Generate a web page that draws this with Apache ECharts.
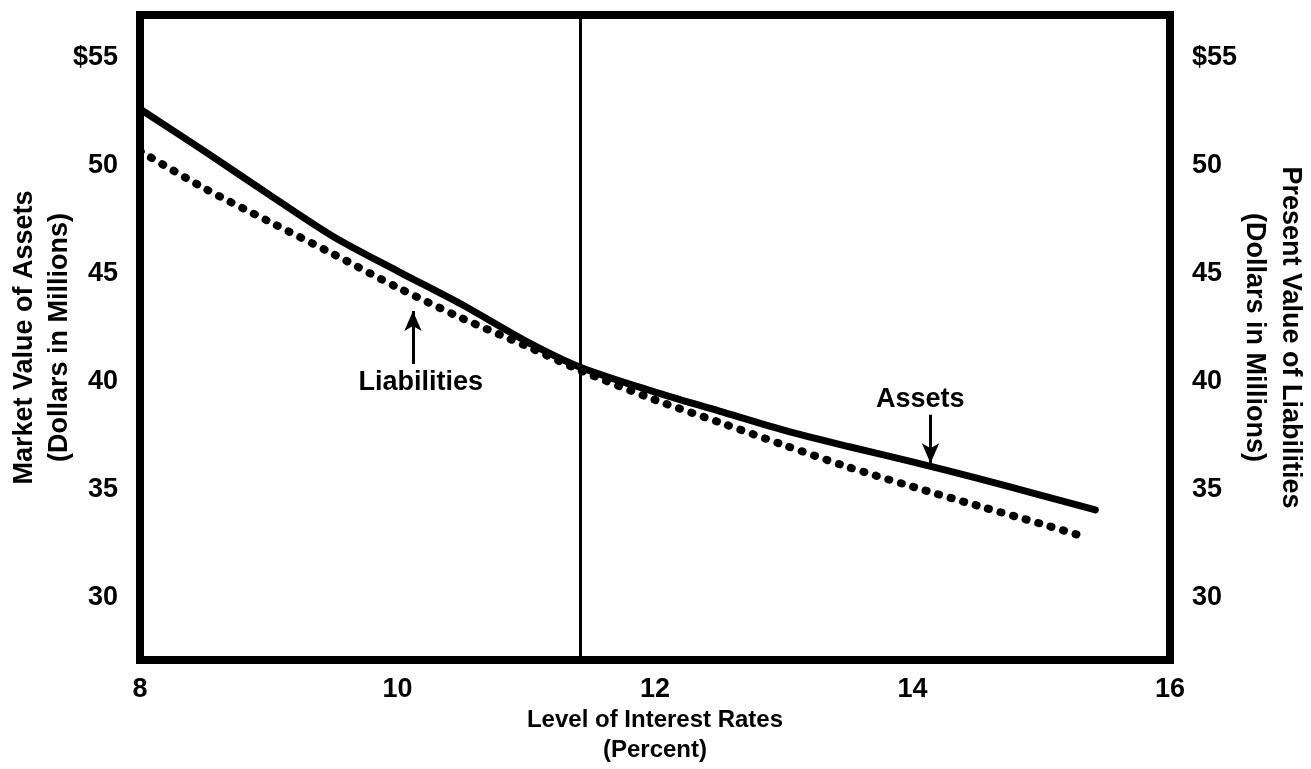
<!DOCTYPE html>
<html>
<head>
<meta charset="utf-8">
<script src="https://cdn.jsdelivr.net/npm/echarts@6/dist/echarts.min.js"></script>
<style>
  html, body { margin: 0; padding: 0; background: #fff; }
  #chart { width: 1311px; height: 769px; }
</style>
</head>
<body>
<div id="chart"></div>
<script>
// interest rate (percent) vs value (dollars in millions)
const assetRates = [8, 8.5, 9, 9.5, 10, 10.5, 11, 11.42, 12, 12.5, 13, 13.5, 14, 14.5, 15, 15.42];
const assetValues = [52.6, 50.65, 48.65, 46.7, 45.1, 43.55, 41.85, 40.65, 39.5, 38.62, 37.74, 36.98, 36.27, 35.52, 34.72, 34.05];
const liabilityRates = [8, 8.5, 9, 9.5, 10, 10.5, 11, 11.42, 12, 12.5, 13, 13.5, 14, 14.5, 15, 15.36];
const liabilityValues = [50.65, 48.93, 47.4, 45.89, 44.34, 42.92, 41.63, 40.5, 39.14, 38.1, 37.05, 36.03, 35.12, 34.25, 33.4, 32.76];
const valueTicks = [30, 35, 40, 45, 50, 55];
const currentRate = 11.42;

const FONT = "'Liberation Sans', Arial, sans-serif";
const textStyle = { color: "#000", fontFamily: FONT, fontWeight: "bold", fontSize: 27 };

const chart = echarts.init(document.getElementById("chart"), null, { renderer: "canvas" });

const yAxisBase = {
  type: "value",
  min: 27.1,
  max: 56.95,
  axisLine: { show: false },
  axisTick: { show: false },
  splitLine: { show: false },
  nameLocation: "middle",
  nameMoveOverlap: false,
  axisLabel: {
    ...textStyle,
    margin: 22,
    customValues: valueTicks,
    formatter: (v) => (v === 55 ? "$55" : String(v)),
  },
};

chart.setOption({
  animation: false,
  grid: {
    left: 140, right: 141, top: 15, bottom: 109,
    outerBoundsMode: "none",
    containLabel: false,
    show: true, borderColor: "#000", borderWidth: 8, backgroundColor: "transparent",
  },
  xAxis: {
    type: "value",
    min: 8, max: 16, interval: 2,
    axisLine: { show: false },
    axisTick: { show: false },
    splitLine: { show: false },
    axisLabel: { ...textStyle, margin: 16 },
    name: "Level of Interest Rates\n(Percent)",
    nameLocation: "middle",
    nameMoveOverlap: false,
    nameGap: 45,
    nameTextStyle: { ...textStyle, fontSize: 24, lineHeight: 30, verticalAlign: "top" },
  },
  yAxis: [
    {
      ...yAxisBase,
      position: "left",
      name: "Market Value of Assets\n(Dollars in Millions)",
      nameRotate: 90,
      nameGap: 63,
      nameTextStyle: { ...textStyle, fontSize: 27, lineHeight: 35 },
    },
    {
      ...yAxisBase,
      position: "right",
      name: "Present Value of Liabilities\n(Dollars in Millions)",
      nameRotate: -90,
      nameGap: 66,
      nameTextStyle: { ...textStyle, fontSize: 27, lineHeight: 36 },
    },
  ],
  series: [
    {
      name: "Liabilities",
      type: "line",
      data: liabilityRates.map((r, i) => [r, liabilityValues[i]]),
      showSymbol: false,
      smooth: 0.3,
      lineStyle: { color: "#000", width: 8, type: [1, 12], cap: "round" },
      markLine: {
        silent: true,
        symbol: ["none", "none"],
        label: { show: false },
        lineStyle: { color: "#000", width: 3, type: "solid" },
        data: [{ xAxis: currentRate }],
      },
    },
    {
      name: "Assets",
      type: "line",
      data: assetRates.map((r, i) => [r, assetValues[i]]),
      showSymbol: false,
      smooth: 0.3,
      lineStyle: { color: "#000", width: 7, cap: "round", join: "round" },
      markLine: {
        silent: true,
        symbol: ["none", "arrow"],
        symbolSize: [13, 20],
        label: { show: false },
        lineStyle: { color: "#000", width: 3, type: "solid" },
        data: [
          [{ coord: [10.12, 40.8] }, { coord: [10.12, 43.25] }],
          [{ coord: [14.14, 38.45] }, { coord: [14.14, 36.2] }],
        ],
      },
      markPoint: {
        silent: true,
        symbol: "circle",
        symbolSize: 1,
        itemStyle: { color: "transparent" },
        label: { show: true, position: "inside", ...textStyle },
        data: [
          { coord: [10.18, 39.95], label: { formatter: "Liabilities" } },
          { coord: [14.06, 39.15], label: { formatter: "Assets" } },
        ],
      },
    },
  ],
});

window.addEventListener("resize", () => chart.resize());
</script>
</body>
</html>
